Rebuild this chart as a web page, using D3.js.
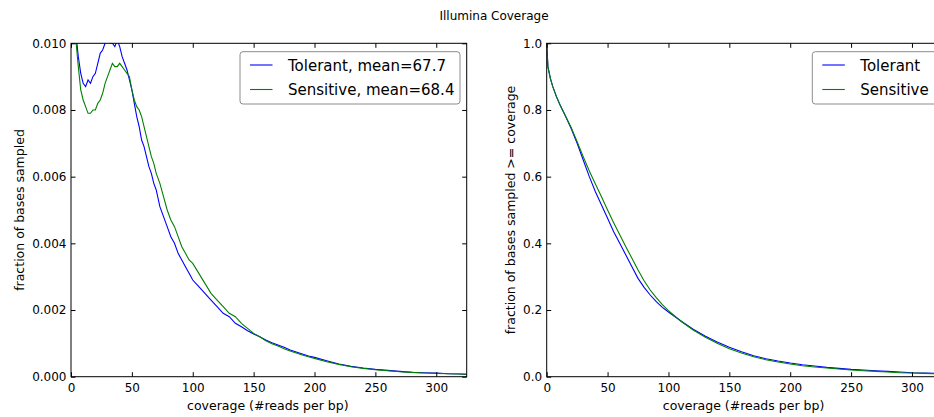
<!DOCTYPE html>
<html>
<head>
<meta charset="utf-8">
<script src="https://cdn.jsdelivr.net/npm/d3@7"></script>
<style>
  body { margin: 0; background: #fff; }
  svg { display: block; font-family: "DejaVu Sans", sans-serif; }
</style>
</head>
<body>
<svg id="chart" width="934" height="417"></svg>
<script>
// coverage values (#reads per bp) for the histogram panel
const histX = [0,2,4,6,8,10,12,14,16,18,20,22,24,26,28,30,32,34,36,38,40,42,44,46,48,50,52,54,56,58,60,62,64,66,68,70,
  73,76,79,82,85,88,91,94,97,100,105,110,115,120,125,130,135,140,145,150,155,160,165,170,175,180,185,190,195,200,
  210,220,230,240,250,260,270,280,290,300,310,320,325];
const tolerantHist = [.0135,.0115,.0103,.0096,.0091,.0088,.0087,.0089,.0088,.0090,.0091,.0094,.0097,.0098,.0100,.0101,.0100,.0100,.0099,.0101,
  .0099,.0096,.0094,.0092,.0089,.0086,.0082,.0078,.0075,.0071,.0069,.0066,.0063,.0061,.0058,.0056,
  .0051,.0048,.0045,.0042,.0040,.0037,.0035,.0033,.0031,.0029,.0027,.0025,.0023,.0021,.0019,.0018,.0016,.0015,.00138,.00128,
  .00120,.00110,.00102,.00095,.00088,.00080,.00074,.00068,.00062,.00058,
  .00048,.00038,.00031,.00026,.00022,.00019,.00016,.00013,.00012,.00011,.00009,.00008,.00007];
const sensitiveHist = [.0135,.0112,.0101,.0093,.0086,.0083,.0081,.0079,.0079,.0080,.0080,.0082,.0083,.0085,.0088,.0090,.0092,.0094,.0093,.0093,
  .0094,.0093,.0092,.0091,.0090,.0086,.0083,.0081,.0080,.0078,.0075,.0072,.0069,.0066,.0064,.0061,
  .0058,.0054,.0050,.0047,.0045,.0042,.0039,.0037,.0035,.0034,.0031,.0028,.0025,.0023,.0021,.0019,.0018,.0016,.00145,.00130,
  .00120,.00108,.00099,.00092,.00084,.00077,.00071,.00065,.00060,.00055,
  .00045,.00037,.00030,.00025,.00021,.00018,.00015,.00013,.00011,.00010,.00009,.00008,.00007];

// cumulative panel: fraction of bases with coverage >= x
const cdfX = [0,1,3,5,8,11,15,20,25,30,35,40,45,50,55,60,65,70,75,80,85,90,95,100,110,120,130,140,150,160,170,180,190,200,
  210,220,230,240,250,260,270,280,290,300,310,320,330];
const tolerantCdf = [1.0,0.93,0.895,0.87,0.84,0.815,0.785,0.745,0.70,0.65,0.60,0.555,0.515,0.475,0.435,0.40,0.365,0.33,0.295,0.268,
  0.245,0.225,0.208,0.194,0.168,0.143,0.122,0.104,0.088,0.075,0.063,0.054,0.047,0.041,0.036,0.032,0.028,0.025,0.022,0.020,
  0.018,0.016,0.014,0.012,0.011,0.010,0.009];
const sensitiveCdf = [1.0,0.93,0.895,0.87,0.84,0.815,0.785,0.748,0.705,0.66,0.617,0.578,0.54,0.50,0.462,0.426,0.39,0.355,0.32,0.288,
  0.26,0.237,0.216,0.198,0.167,0.141,0.119,0.100,0.084,0.071,0.060,0.051,0.044,0.038,0.033,0.029,0.026,0.023,0.020,0.018,
  0.016,0.014,0.012,0.011,0.010,0.009,0.008];

const xTicks = [0,50,100,150,200,250,300];
const histTicks = [0,0.002,0.004,0.006,0.008,0.010];
const cdfTicks = [0,0.2,0.4,0.6,0.8,1.0];
const histLegend = ["Tolerant, mean=67.7", "Sensitive, mean=68.4"];
const cdfLegend = ["Tolerant", "Sensitive"];
const colors = ["#0000ff", "#008000"];

const svg = d3.select("#chart");
const plotTop = 43.3, plotBottom = 376.7, pw = 395.7;

svg.append("text")
  .attr("x", 494).attr("y", 20)
  .attr("text-anchor", "middle")
  .attr("font-size", 12)
  .text("Illumina Coverage");

function panel(id, left, xs, series, yMax, yTicks, yFmt, ylab, ylabX, legend, legX, legW) {
  const g = svg.append("g");
  const x = d3.scaleLinear().domain([0, 325]).range([left, left + pw]);
  const y = d3.scaleLinear().domain([0, yMax]).range([plotBottom, plotTop]);

  g.append("clipPath").attr("id", id)
    .append("rect").attr("x", left).attr("y", plotTop).attr("width", pw).attr("height", plotBottom - plotTop);

  const line = d3.line().x((d, i) => x(xs[i])).y(d => y(d));
  series.forEach((s, k) => {
    g.append("path")
      .attr("clip-path", `url(#${id})`)
      .attr("d", line(s))
      .attr("fill", "none")
      .attr("stroke", colors[k])
      .attr("stroke-width", 1.1);
  });

  // axes, ticks pointing inwards on all four sides
  const ax = (sel, a) => {
    sel.call(a);
    sel.select(".domain").remove();
    sel.selectAll("text").attr("font-family", "DejaVu Sans").attr("font-size", 12).attr("fill", "#000");
  };
  g.append("g").attr("transform", `translate(0,${plotBottom})`)
    .call(s => ax(s, d3.axisBottom(x).tickValues(xTicks).tickSize(-4.5).tickPadding(7)));
  g.append("g").attr("transform", `translate(0,${plotTop})`)
    .call(s => ax(s, d3.axisTop(x).tickValues(xTicks).tickSize(-4.5).tickFormat("")));
  g.append("g").attr("transform", `translate(${left},0)`)
    .call(s => ax(s, d3.axisLeft(y).tickValues(yTicks).tickSize(-4.5).tickPadding(4.5).tickFormat(d3.format(yFmt))));
  g.append("g").attr("transform", `translate(${left + pw},0)`)
    .call(s => ax(s, d3.axisRight(y).tickValues(yTicks).tickSize(-4.5).tickFormat("")));

  g.append("rect")
    .attr("x", left).attr("y", plotTop).attr("width", pw).attr("height", plotBottom - plotTop)
    .attr("fill", "none").attr("stroke", "#000").attr("stroke-width", 1);

  g.append("text")
    .attr("x", left + pw / 2 - 1).attr("y", 410)
    .attr("text-anchor", "middle").attr("font-size", 12.5)
    .text("coverage (#reads per bp)");
  g.append("text")
    .attr("transform", `translate(${ylabX},${(plotTop + plotBottom) / 2}) rotate(-90)`)
    .attr("text-anchor", "middle").attr("font-size", 12.5)
    .text(ylab);

  // legend
  const lg = g.append("g");
  lg.append("rect")
    .attr("x", legX).attr("y", 51.7).attr("width", legW).attr("height", 52.3)
    .attr("rx", 3).attr("fill", "#fff").attr("stroke", "#8c8c8c").attr("stroke-width", 1);
  legend.forEach((t, k) => {
    const ly = 65 + k * 24.5;
    lg.append("line")
      .attr("x1", legX + 10).attr("x2", legX + 32.5).attr("y1", ly).attr("y2", ly)
      .attr("stroke", colors[k]).attr("stroke-width", 1.1);
    lg.append("text")
      .attr("x", legX + 48).attr("y", ly + 5.5)
      .attr("font-size", 15)
      .text(t);
  });
}

panel("clipA", 71, histX, [tolerantHist, sensitiveHist], 0.010, histTicks, ".3f",
  "fraction of bases sampled", 24, histLegend, 240, 220);
panel("clipB", 546.7, cdfX, [tolerantCdf, sensitiveCdf], 1.0, cdfTicks, ".1f",
  "fraction of bases sampled >= coverage", 515, cdfLegend, 812.3, 140);
</script>
</body>
</html>
